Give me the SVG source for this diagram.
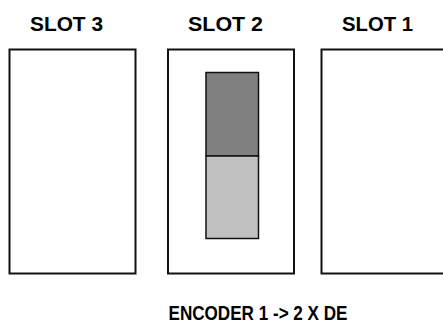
<svg xmlns="http://www.w3.org/2000/svg" width="443" height="323" viewBox="0 0 443 323">
  <style>
    .bg { fill: #ffffff; }
    .slot { fill: #ffffff; stroke: #111111; stroke-width: 2; }
    .title { font-family: "Liberation Sans", Arial, sans-serif; font-weight: bold; font-size: 20px; fill: #000000; text-anchor: middle; }
    .caption { font-family: "Liberation Sans", Arial, sans-serif; font-weight: bold; font-size: 20.5px; fill: #000000; }
    .upper { fill: #808080; stroke: #111111; stroke-width: 1.5; }
    .lower { fill: #c0c0c0; stroke: #111111; stroke-width: 1.5; }
  </style>
  <rect class="bg" x="0" y="0" width="443" height="323"/>

  <!-- slot 3: empty -->
  <g id="slot3">
    <text class="title" x="66.5" y="30.5" textLength="73" lengthAdjust="spacingAndGlyphs">SLOT 3</text>
    <rect class="slot" x="9.5" y="49.5" width="126" height="224"/>
  </g>

  <!-- slot 2: holds the two-part module -->
  <g id="slot2">
    <text class="title" x="225.5" y="30.5" textLength="75" lengthAdjust="spacingAndGlyphs">SLOT 2</text>
    <rect class="slot" x="168" y="49.5" width="126" height="224"/>
    <g id="module">
      <rect class="upper" x="206" y="72.5" width="52.5" height="83.5"/>
      <rect class="lower" x="206" y="156" width="52.5" height="82.5"/>
    </g>
  </g>

  <!-- slot 1: empty, runs past the right edge -->
  <g id="slot1">
    <text class="title" x="377.5" y="30.5" textLength="71" lengthAdjust="spacingAndGlyphs">SLOT 1</text>
    <rect class="slot" x="321.5" y="49.5" width="140" height="224"/>
  </g>

  <text id="caption" class="caption" x="168.5" y="320" textLength="179" lengthAdjust="spacingAndGlyphs">ENCODER 1 -&gt; 2 X DE</text>
</svg>
